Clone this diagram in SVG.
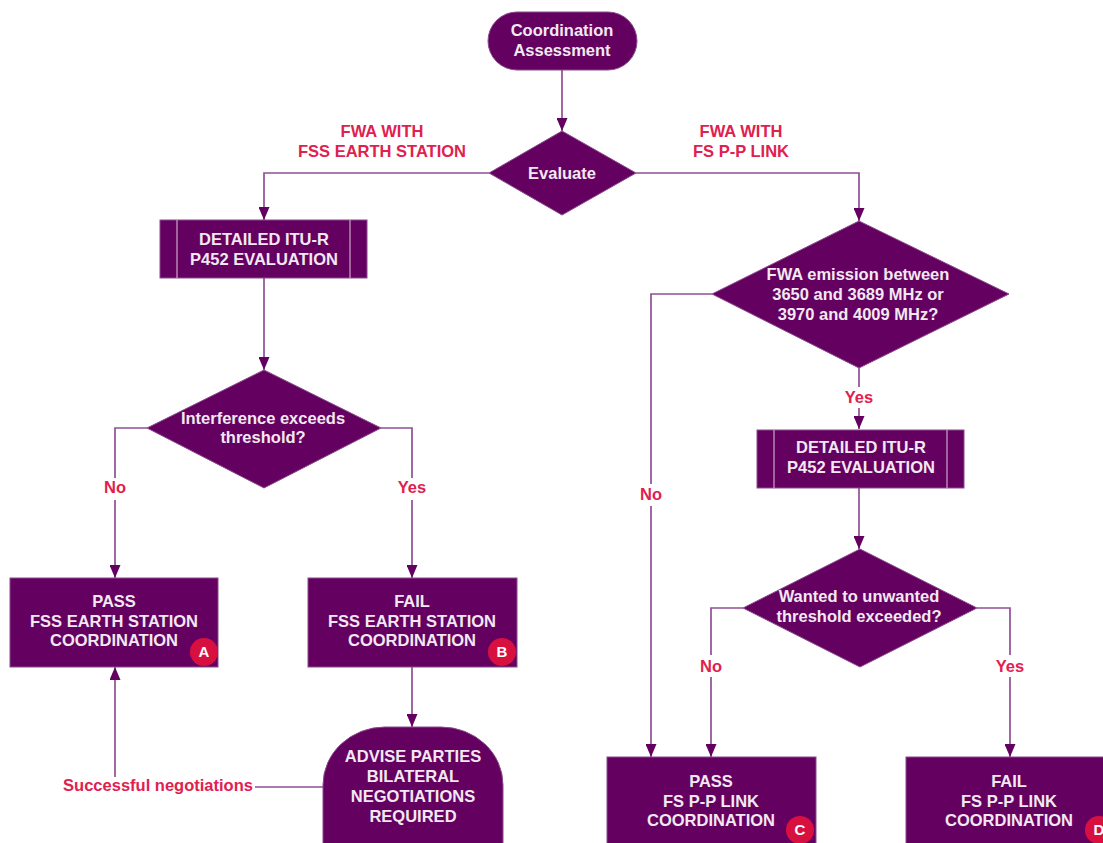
<svg xmlns="http://www.w3.org/2000/svg" width="1103" height="843" viewBox="0 0 1103 843">
<defs>
<style>
.n{fill:#640060;stroke:#8a4a8c;stroke-width:1}
.t{font-family:"Liberation Sans",Arial,sans-serif;font-weight:bold;font-size:16.5px;fill:#f2e8f2;text-anchor:middle}
.l{font-family:"Liberation Sans",Arial,sans-serif;font-weight:bold;font-size:16.5px;fill:#e0204f;text-anchor:middle}
.c{fill:none;stroke:#8f4f96;stroke-width:1.7}
.in{stroke:#c8a8c8;stroke-width:1.2}
.b{fill:#d8103f}
.bt{font-family:"Liberation Sans",Arial,sans-serif;font-weight:bold;font-size:15px;fill:#fff;text-anchor:middle}
</style>
<marker id="a" markerUnits="userSpaceOnUse" markerWidth="13" markerHeight="11" refX="13" refY="5.5" orient="auto">
<path d="M0,0 L13,5.5 L0,11 z" fill="#640060"/>
</marker>
</defs>
<rect width="1103" height="843" fill="#fff"/>
<g id="connectors">
<path class="c" d="M562,70 V131" marker-end="url(#a)"/>
<path class="c" d="M489,173 H264 V220" marker-end="url(#a)"/>
<path class="c" d="M636,173 H859 V221" marker-end="url(#a)"/>
<path class="c" d="M264,278 V370" marker-end="url(#a)"/>
<path class="c" d="M147,428 H115 V478 M115,500 V578" marker-end="url(#a)"/>
<path class="c" d="M381,428 H412 V478 M412,500 V578" marker-end="url(#a)"/>
<path class="c" d="M412,667 V727" marker-end="url(#a)"/>
<path class="c" d="M323,787 H255"/>
<path class="c" d="M115,777 V667" marker-end="url(#a)"/>
<path class="c" d="M712,294 H651 V484 M651,506 V757" marker-end="url(#a)"/>
<path class="c" d="M859,368 V387 M859,408 V429" marker-end="url(#a)"/>
<path class="c" d="M859,488 V549" marker-end="url(#a)"/>
<path class="c" d="M743,608 H711 V655 M711,677 V757" marker-end="url(#a)"/>
<path class="c" d="M977,608 H1010 V655 M1010,677 V757" marker-end="url(#a)"/>
</g>
<g id="labels">
<text class="l" x="382" y="137">FWA WITH</text>
<text class="l" x="382" y="157">FSS EARTH STATION</text>
<text class="l" x="741" y="137">FWA WITH</text>
<text class="l" x="741" y="157">FS P-P LINK</text>
<text class="l" x="115" y="493">No</text>
<text class="l" x="412" y="493">Yes</text>
<text class="l" x="651" y="500">No</text>
<text class="l" x="859" y="403">Yes</text>
<text class="l" x="711" y="672">No</text>
<text class="l" x="1010" y="672">Yes</text>
<text class="l" x="158" y="791">Successful negotiations</text>
</g>
<g id="start">
<rect class="n" x="488" y="12" width="149" height="58" rx="29"/>
<text class="t" x="562" y="36">Coordination</text>
<text class="t" x="562" y="56">Assessment</text>
</g>
<g id="evaluate">
<polygon class="n" points="562,131 636,173 562,215 489,173"/>
<text class="t" x="562" y="179">Evaluate</text>
</g>
<g id="itu-left">
<rect class="n" x="160" y="220" width="207" height="58"/>
<line class="in" x1="177" y1="220" x2="177" y2="278"/>
<line class="in" x1="350" y1="220" x2="350" y2="278"/>
<text class="t" x="264" y="245">DETAILED ITU-R</text>
<text class="t" x="264" y="265">P452 EVALUATION</text>
</g>
<g id="interference">
<polygon class="n" points="264,370 381,428 264,488 147,428"/>
<text class="t" x="263" y="424">Interference exceeds</text>
<text class="t" x="263" y="443">threshold?</text>
</g>
<g id="pass-a">
<rect class="n" x="10" y="578" width="208" height="89"/>
<text class="t" x="114" y="607">PASS</text>
<text class="t" x="114" y="627">FSS EARTH STATION</text>
<text class="t" x="114" y="646">COORDINATION</text>
<circle class="b" cx="204" cy="652" r="14"/>
<text class="bt" x="204" y="657">A</text>
</g>
<g id="fail-b">
<rect class="n" x="308" y="578" width="209" height="89"/>
<text class="t" x="412" y="607">FAIL</text>
<text class="t" x="412" y="627">FSS EARTH STATION</text>
<text class="t" x="412" y="646">COORDINATION</text>
<circle class="b" cx="502" cy="652" r="14"/>
<text class="bt" x="502" y="657">B</text>
</g>
<g id="advise">
<rect class="n" x="323" y="727" width="180" height="180" rx="62" ry="58"/>
<text class="t" x="413" y="762">ADVISE PARTIES</text>
<text class="t" x="413" y="782">BILATERAL</text>
<text class="t" x="413" y="802">NEGOTIATIONS</text>
<text class="t" x="413" y="822">REQUIRED</text>
</g>
<g id="fwa-emission">
<polygon class="n" points="859,221 1009,294 859,368 712,294"/>
<text class="t" x="858" y="280">FWA emission between</text>
<text class="t" x="858" y="300">3650 and 3689 MHz or</text>
<text class="t" x="858" y="320">3970 and 4009 MHz?</text>
</g>
<g id="itu-right">
<rect class="n" x="757" y="430" width="207" height="58"/>
<line class="in" x1="774" y1="430" x2="774" y2="488"/>
<line class="in" x1="947" y1="430" x2="947" y2="488"/>
<text class="t" x="861" y="453">DETAILED ITU-R</text>
<text class="t" x="861" y="473">P452 EVALUATION</text>
</g>
<g id="wanted">
<polygon class="n" points="860,549 977,608 860,667 743,608"/>
<text class="t" x="859" y="602">Wanted to unwanted</text>
<text class="t" x="859" y="622">threshold exceeded?</text>
</g>
<g id="pass-c">
<rect class="n" x="607" y="757" width="209" height="100"/>
<text class="t" x="711" y="787">PASS</text>
<text class="t" x="711" y="807">FS P-P LINK</text>
<text class="t" x="711" y="826">COORDINATION</text>
<circle class="b" cx="800" cy="830" r="14"/>
<text class="bt" x="800" y="835">C</text>
</g>
<g id="fail-d">
<rect class="n" x="906" y="757" width="210" height="100"/>
<text class="t" x="1009" y="787">FAIL</text>
<text class="t" x="1009" y="807">FS P-P LINK</text>
<text class="t" x="1009" y="826">COORDINATION</text>
<circle class="b" cx="1099" cy="830" r="14"/>
<text class="bt" x="1099" y="835">D</text>
</g>
</svg>
